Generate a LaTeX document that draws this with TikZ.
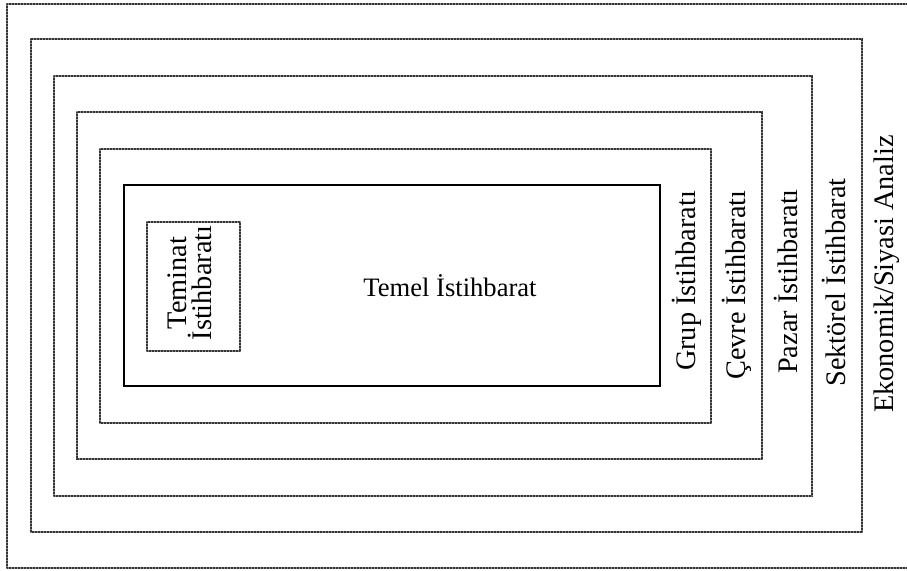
\documentclass[tikz,border=0pt]{standalone}
\usepackage{fontspec}
\setmainfont{Liberation Serif}
\begin{document}
\begin{tikzpicture}[x=1pt,y=-1pt,
  frameline/.style={line width=1.5pt,draw=black!45},
  framedots/.style={line width=1.5pt,draw=black!80,dash pattern=on 0.75pt off 0.75pt},
  layerlabel/.style={rotate=90,anchor=base,inner sep=0pt,font=\fontsize{28.3}{30}\selectfont},
]
\useasboundingbox (0,0) rectangle (907,570);
% nested layers, outermost first (outer frame runs past the right edge)
\foreach \l/\t/\r/\b in {7/4/930/568, 31/39/862/532, 54/76/812/496, 77/112/762/459, 100/149/711/423}{
  \draw[frameline] (\l,\t) rectangle (\r,\b);
  \draw[framedots] (\l,\t) rectangle (\r,\b);
}
% core box
\draw[line width=2pt] (124,185) rectangle (660,386);
% small box inside the core
\draw[frameline,line width=1.2pt] (147,222) rectangle (240,351);
\draw[framedots,line width=1.2pt] (147,222) rectangle (240,351);

\node[anchor=base,inner sep=0pt,font=\fontsize{26.6}{30}\selectfont] (temel) at (450,296) {Temel İstihbarat};
\node[rotate=90,inner sep=0pt,align=center,font=\fontsize{28.3}{22}\selectfont] (teminat) at (190,283) {Teminat\\İstihbaratı};

\node[layerlabel] (grup) at (695,281) {Grup İstihbaratı};
\node[layerlabel] (cevre) at (745,285) {Çevre İstihbaratı};
\node[layerlabel] (pazar) at (797,281.5) {Pazar İstihbaratı};
\node[layerlabel] (sektorel) at (845,282.5) {Sektörel İstihbarat};
\node[layerlabel] (ekonomik) at (893,274) {Ekonomik/Siyasi Analiz};
\end{tikzpicture}
\end{document}
